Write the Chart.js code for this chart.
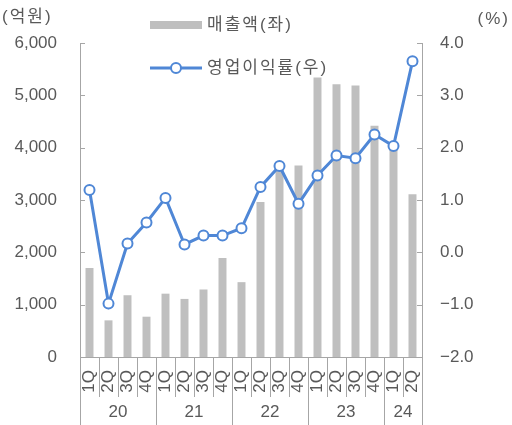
<!DOCTYPE html>
<html>
<head>
<meta charset="utf-8">
<script src="https://cdn.jsdelivr.net/npm/chart.js@4.4.1/dist/chart.umd.min.js"></script>
<style>
  body { margin: 0; background: #fff; }
</style>
</head>
<body>
<canvas id="myChart" width="512" height="425"></canvas>
<script>
// data
var quarters = ['1Q', '2Q', '3Q', '4Q', '1Q', '2Q', '3Q', '4Q', '1Q', '2Q', '3Q', '4Q', '1Q', '2Q', '3Q', '4Q', '1Q', '2Q'];
var years = ['20', '21', '22', '23', '24'];
var yearSpans = [4, 4, 4, 4, 2];
var sales = [1700, 700, 1180, 770, 1210, 1110, 1290, 1890, 1430, 2960, 3600, 3660, 5340, 5210, 5190, 4420, 4000, 3110];
var margin = [1.19, -0.98, 0.17, 0.57, 1.04, 0.15, 0.32, 0.32, 0.46, 1.25, 1.65, 0.93, 1.47, 1.85, 1.80, 2.25, 2.03, 3.65];
var seriesNames = ['매출액(좌)', '영업이익률(우)'];
var leftUnit = '(억원)';
var rightUnit = '(%)';

var FONT = "'Liberation Sans', 'Noto Sans CJK KR', sans-serif";
var TEXT = '#595959';
var AXIS = '#a6a6a6';
var BAR = '#bfbfbf';
var LINE = '#4f87d6';

var extras = {
    id: 'extras',
    afterDraw: function (chart) {
        var ctx = chart.ctx;
        var x = chart.scales.x, y = chart.scales.y, y2 = chart.scales.y2;
        var area = chart.chartArea;
        ctx.save();
        ctx.strokeStyle = AXIS;
        ctx.lineWidth = 1;

        // inward tick marks on both value axes
        y.ticks.forEach(function (t) {
            var py = Math.round(y.getPixelForValue(t.value)) + 0.5;
            ctx.beginPath(); ctx.moveTo(area.left, py); ctx.lineTo(area.left + 5, py); ctx.stroke();
        });
        y2.ticks.forEach(function (t) {
            var py = Math.round(y2.getPixelForValue(t.value)) + 0.5;
            ctx.beginPath(); ctx.moveTo(area.right - 5, py); ctx.lineTo(area.right, py); ctx.stroke();
        });

        // category separators and year groups
        var n = quarters.length;
        var yearStarts = [0];
        yearSpans.forEach(function (s, i) { yearStarts.push(yearStarts[i] + s); });
        for (var i = 0; i <= n; i++) {
            var px = Math.round(x.getPixelForValue(i - 0.5)) + 0.5;
            var isYear = yearStarts.indexOf(i) >= 0;
            ctx.beginPath();
            ctx.moveTo(px, area.bottom);
            ctx.lineTo(px, isYear ? 425 : 397);
            ctx.stroke();
        }
        ctx.fillStyle = TEXT;
        ctx.font = '17px ' + FONT;
        ctx.textAlign = 'center';
        ctx.textBaseline = 'middle';
        years.forEach(function (yr, i) {
            var a = x.getPixelForValue(yearStarts[i] - 0.5);
            var b = x.getPixelForValue(yearStarts[i + 1] - 0.5);
            ctx.fillText(yr, (a + b) / 2, 412);
        });

        // unit labels
        ctx.letterSpacing = '2px';
        ctx.textAlign = 'left';
        ctx.fillText(leftUnit, 2, 17);
        ctx.textAlign = 'right';
        ctx.fillText(rightUnit, 510, 19);

        // legend
        ctx.textAlign = 'left';
        ctx.fillStyle = BAR;
        ctx.fillRect(150, 21, 52, 8);
        ctx.fillStyle = TEXT;
        ctx.fillText(seriesNames[0], 207, 25);

        ctx.strokeStyle = LINE;
        ctx.lineWidth = 3;
        ctx.beginPath(); ctx.moveTo(150, 68); ctx.lineTo(202, 68); ctx.stroke();
        ctx.lineWidth = 2;
        ctx.fillStyle = '#fff';
        ctx.beginPath(); ctx.arc(176, 68, 5, 0, Math.PI * 2); ctx.fill(); ctx.stroke();
        ctx.fillStyle = TEXT;
        ctx.fillText(seriesNames[1], 207, 68);
        ctx.restore();
    }
};

var ctx = document.getElementById('myChart').getContext('2d');
var chart = new Chart(ctx, {
    type: 'bar',
    data: {
        labels: quarters,
        datasets: [{
            type: 'line',
            label: seriesNames[1],
            data: margin,
            yAxisID: 'y2',
            order: 0,
            borderColor: LINE,
            borderWidth: 3,
            tension: 0,
            pointRadius: 5,
            pointBorderWidth: 2,
            pointBackgroundColor: '#fff',
            pointBorderColor: LINE
        }, {
            type: 'bar',
            label: seriesNames[0],
            data: sales,
            yAxisID: 'y',
            order: 1,
            backgroundColor: BAR,
            barPercentage: 0.42,
            categoryPercentage: 1.0
        }]
    },
    options: {
        responsive: false,
        animation: false,
        layout: { padding: { top: 43, left: 0, right: 0, bottom: 0 } },
        plugins: {
            legend: { display: false },
            tooltip: { enabled: false }
        },
        scales: {
            x: {
                offset: true,
                grid: { display: false, drawTicks: false },
                border: { display: true, color: AXIS },
                ticks: {
                    autoSkip: false,
                    minRotation: 90,
                    maxRotation: 90,
                    padding: 13,
                    color: TEXT,
                    font: { family: FONT, size: 17 }
                },
                afterFit: function (s) { s.height = 68; }
            },
            y: {
                position: 'left',
                min: 0,
                max: 6000,
                grid: { display: false, drawTicks: false },
                border: { display: true, color: AXIS },
                ticks: {
                    stepSize: 1000,
                    padding: 23,
                    color: TEXT,
                    font: { family: FONT, size: 17 },
                    callback: function (v) { return v.toLocaleString('en-US'); }
                },
                afterFit: function (s) { s.width = 80; }
            },
            y2: {
                position: 'right',
                min: -2,
                max: 4,
                grid: { display: false, drawTicks: false },
                border: { display: true, color: AXIS },
                ticks: {
                    stepSize: 1,
                    padding: 18,
                    color: TEXT,
                    font: { family: FONT, size: 17 },
                    callback: function (v) { return v.toFixed(1).replace('-', '\u2212'); }
                },
                afterFit: function (s) { s.width = 90; }
            }
        }
    },
    plugins: [extras]
});
</script>
</body>
</html>
